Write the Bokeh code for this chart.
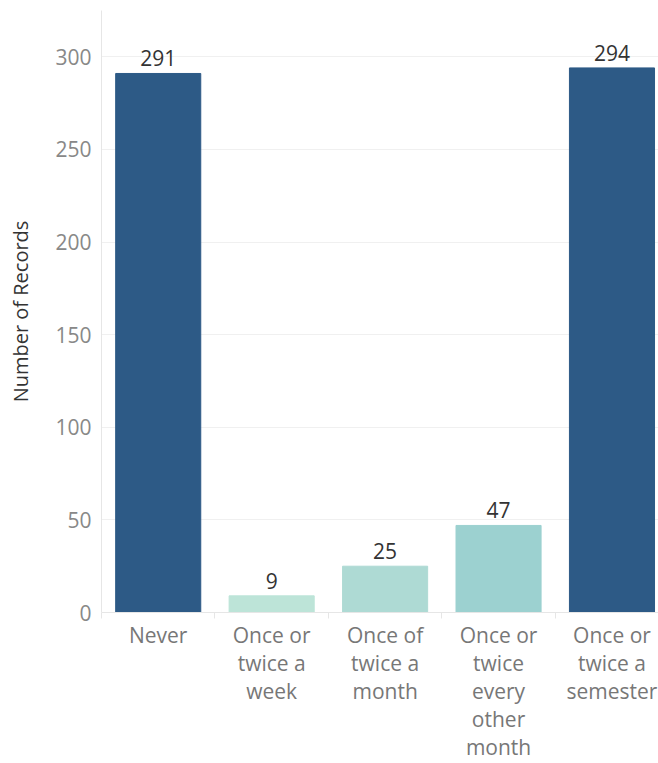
from bokeh.plotting import figure
from bokeh.models import ColumnDataSource, FixedTicker, Range1d
from bokeh.core.properties import value
from bokeh.embed import file_html
from bokeh.resources import INLINE

categories = ["Never", "Once or\ntwice a\nweek", "Once of\ntwice a\nmonth",
              "Once or\ntwice\nevery\nother\nmonth", "Once or\ntwice a\nsemester"]
counts = [291, 9, 25, 47, 294]
colors = ["#2d5a86", "#bde4d8", "#aedad4", "#9cd1d0", "#2d5a86"]
y_ticks = [0, 50, 100, 150, 200, 250, 300]

FONT = "Open Sans"
xs = list(range(len(categories)))
src = ColumnDataSource(dict(x=xs, count=counts, color=colors,
                            label=[str(c) for c in counts]))

p = figure(width=658, height=763, output_backend="svg", toolbar_location=None,
           x_range=Range1d(-0.5, 4.41), y_range=Range1d(0, 325),
           min_border_left=101, min_border_right=0, min_border_top=10,
           min_border_bottom=150)
p.outline_line_color = None
p.background_fill_color = "white"
p.border_fill_color = "white"

p.vbar(x="x", top="count", width=0.75, color="color", source=src)
p.text(x="x", y="count", text="label", source=src, text_align="center",
       text_baseline="bottom", y_offset=-7, text_font=value(FONT),
       text_font_size="21px", text_color="#333333")

# x axis
p.xaxis.ticker = FixedTicker(ticks=xs, minor_ticks=[i - 0.5 for i in range(len(categories) + 1)])
p.xaxis.major_label_overrides = {i: c for i, c in enumerate(categories)}
p.xaxis.major_tick_line_color = None
p.xaxis.minor_tick_line_color = "#e6e6e6"
p.xaxis.minor_tick_in = 0
p.xaxis.minor_tick_out = 6
p.xaxis.axis_line_color = "#e6e6e6"
p.xaxis.major_label_text_font = FONT
p.xaxis.major_label_text_font_size = "21px"
p.xaxis.major_label_text_color = "#777777"
p.xaxis.major_label_text_line_height = 1.0
p.xaxis.major_label_standoff = 2
p.xgrid.grid_line_color = None

# y axis
p.yaxis.ticker = FixedTicker(ticks=y_ticks)
p.yaxis.major_tick_line_color = None
p.yaxis.major_tick_out = 0
p.yaxis.minor_tick_line_color = None
p.yaxis.axis_line_color = "#e6e6e6"
p.yaxis.major_label_text_font = FONT
p.yaxis.major_label_text_font_size = "21px"
p.yaxis.major_label_text_color = "#888888"
p.yaxis.major_label_standoff = 10
p.yaxis.axis_label = "Number of Records"
p.yaxis.axis_label_text_font = FONT
p.yaxis.axis_label_text_font_size = "20px"
p.yaxis.axis_label_text_font_style = "normal"
p.yaxis.axis_label_text_color = "#333333"
p.yaxis.axis_label_standoff = 18
p.ygrid.grid_line_color = "#f0f0f0"

open("out.html", "w").write(file_html(p, INLINE))
